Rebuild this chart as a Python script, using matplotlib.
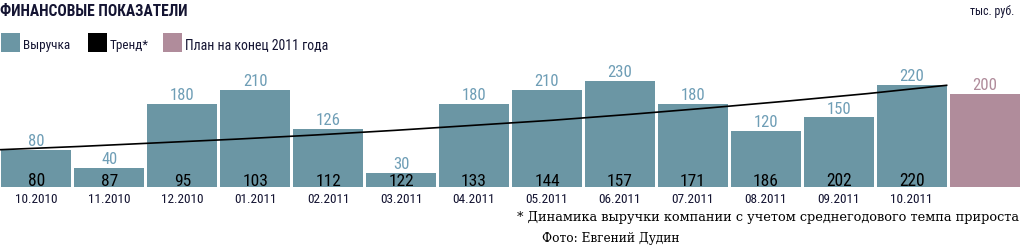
import os
import numpy as np
import matplotlib
matplotlib.use('Agg')
import matplotlib.pyplot as plt
from matplotlib.patches import Rectangle
from matplotlib import font_manager
from matplotlib.font_manager import FontProperties

# chart data
months = ['10.2010', '11.2010', '12.2010', '01.2011', '02.2011', '03.2011', '04.2011',
          '05.2011', '06.2011', '07.2011', '08.2011', '09.2011', '10.2011']
revenue = [80, 40, 180, 210, 126, 30, 180, 210, 230, 180, 120, 150, 220]
trend = [80, 87, 95, 103, 112, 122, 133, 144, 157, 171, 186, 202, 220]
plan_value = 200

bar_color = '#6b96a4'
plan_color = '#b08c9b'
top_label_color = '#6f9eb6'
ink = '#141432'

W, H = 1021, 245
base = 186.5      # bar baseline, px from top
px_per_unit = 0.46


# look for narrow fonts on the system, fall back to Roboto
def find_font(patterns, fallback):
    files = {os.path.basename(f.fname): f.fname for f in font_manager.fontManager.ttflist}
    for p in patterns:
        if p in files:
            return FontProperties(fname=files[p])
    return FontProperties(family=fallback)


cond = find_font(['NotoSans-ExtraCondensed.ttf', 'NotoSans-Condensed.ttf',
                  'LiberationSansNarrow-Regular.ttf', 'RobotoCondensed-Regular.ttf',
                  'OpenSans-CondensedRegular.ttf', 'OpenSans_Condensed-Regular.ttf'], 'Roboto')
cond_bold = find_font(['NotoSans-ExtraCondensedBold.ttf', 'NotoSans-CondensedBold.ttf',
                       'LiberationSansNarrow-Bold.ttf', 'RobotoCondensed-Bold.ttf',
                       'OpenSans-CondensedBold.ttf'], 'Roboto')
narrow = find_font(['NotoSans-SemiCondensed.ttf', 'NotoSans-Condensed.ttf',
                    'LiberationSansNarrow-Regular.ttf', 'RobotoCondensed-Regular.ttf'], 'Roboto')
serif = FontProperties(family='DejaVu Serif')

fig = plt.figure(figsize=(W / 100, H / 100), dpi=100)
ax = fig.add_axes([0, (H - base) / H, 1, base / H])
ax.set_xlim(-0.5, 13.5)
ax.set_ylim(0, base / px_per_unit)
ax.axis('off')

x = np.arange(len(months))
ax.bar(x, revenue, width=0.96, color=bar_color)
ax.bar([len(months)], [plan_value], width=0.96, color=plan_color)

tx = np.linspace(-0.5, len(months) - 1 + 0.48, len(trend))
ax.plot(tx, trend, color='black', lw=1.2, zorder=3)

# overlay in pixel coordinates (y down) for all texts
ov = fig.add_axes([0, 0, 1, 1], zorder=5)
ov.set_xlim(0, W)
ov.set_ylim(H, 0)
ov.axis('off')

fitted = []


def rtext(xp, yb, s, size, color, fp, ha='left', width=None):
    t = ov.text(xp, yb, s, ha=ha, va='baseline', color=color,
                fontproperties=fp.copy(), fontsize=size)
    if width is not None:
        fitted.append((t, width))
    return t


def to_px(xd, yd):
    xp, yp = ax.transData.transform((xd, yd))
    return xp, H - yp


for i, (r, t) in enumerate(zip(revenue, trend)):
    xp, yp = to_px(i, r)
    rtext(xp, yp - 4, str(r), 14, top_label_color, cond, ha='center', width=8.3 * len(str(r)))
    rtext(xp, base - 0.5, str(t), 14.5, 'black', cond, ha='center', width=8.6 * len(str(t)))
    rtext(xp, 203, months[i], 9.5, ink, narrow, ha='center', width=45)

xp, yp = to_px(len(months), plan_value)
rtext(xp, yp - 4, str(plan_value), 14, plan_color, cond, ha='center', width=25)

rtext(0, 15.5, 'ФИНАНСОВЫЕ ПОКАЗАТЕЛИ', 15, ink, cond_bold, width=190)
rtext(1014, 15, 'тыс. руб.', 10, ink, narrow, ha='right', width=44)

legend = [(bar_color, 'Выручка', 1, 48), ('black', 'Тренд*', 88, 39),
          (plan_color, 'План на конец 2011 года', 163, 144)]
for c, lab, xl, wl in legend:
    ov.add_patch(Rectangle((xl, 33), 19, 19, color=c, lw=0))
    rtext(xl + 22, 49, lab, 10.5, ink, narrow, width=wl)

rtext(1019, 220.5, '* Динамика выручки компании с учетом среднегодового темпа прироста',
      9.3, 'black', serif, ha='right', width=504)
rtext(542, 242, 'Фото: Евгений Дудин', 8.9, 'black', serif, width=137)

# shrink texts that come out wider than in the original
fig.canvas.draw()
renderer = fig.canvas.get_renderer()
for t, w in fitted:
    wt = t.get_window_extent(renderer).width
    if wt > w:
        t.set_fontsize(t.get_fontsize() * w / wt)

fig.savefig('out.png', dpi=100)
